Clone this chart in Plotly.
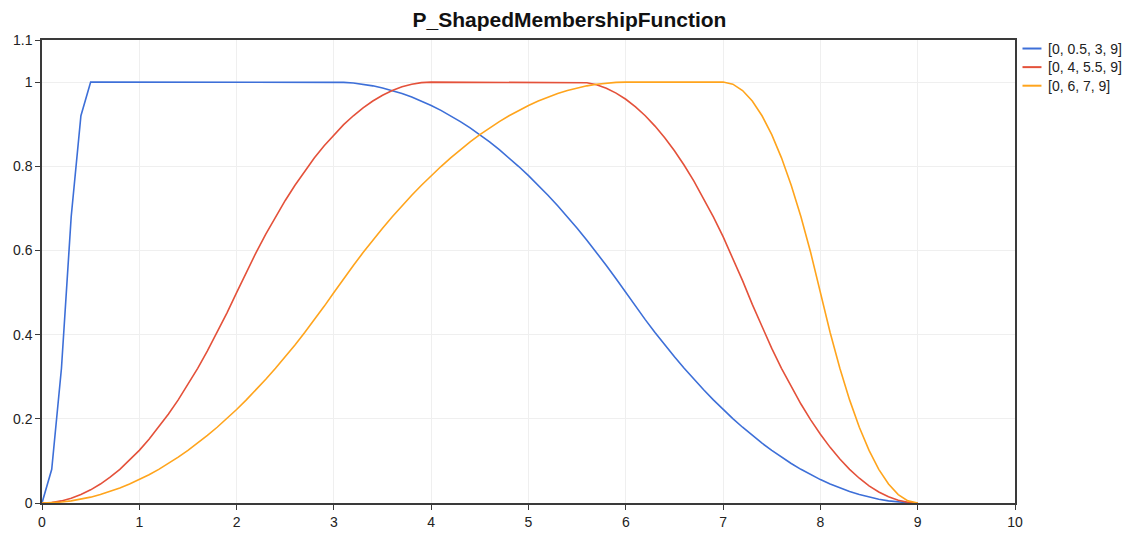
import plotly.graph_objects as go

# Sample grid (step 0.1 from 0 to 9)
x_vals = [round(i * 0.1, 1) for i in range(91)]

# Membership degree for parameters [0, 0.5, 3, 9]
mf_a = [
    0.0, 0.08, 0.32, 0.68, 0.92,
    1.0, 1.0, 1.0, 1.0, 1.0, 1.0, 1.0, 1.0, 1.0, 1.0, 1.0, 1.0, 1.0,
    1.0, 1.0, 1.0, 1.0, 1.0, 1.0, 1.0, 1.0, 1.0, 1.0, 1.0, 1.0, 1.0,
    0.9994, 0.9978, 0.995, 0.9911, 0.9861, 0.98, 0.9728, 0.9644, 0.955, 0.9444,
    0.9328, 0.92, 0.9061, 0.8911, 0.875, 0.8578, 0.8394, 0.82, 0.7994, 0.7778,
    0.755, 0.7311, 0.7061, 0.68, 0.6528, 0.6244, 0.595, 0.5644, 0.5328, 0.5,
    0.4672, 0.4356, 0.405, 0.3756, 0.3472, 0.32, 0.2939, 0.2689, 0.245, 0.2222,
    0.2006, 0.18, 0.1606, 0.1422, 0.125, 0.1089, 0.0939, 0.08, 0.0672, 0.0556,
    0.045, 0.0356, 0.0272, 0.02, 0.0139, 0.0089, 0.005, 0.0022, 0.0006, 0.0,
]

# Membership degree for parameters [0, 4, 5.5, 9]
mf_b = [
    0.0, 0.0013, 0.005, 0.0113, 0.02, 0.0313, 0.045, 0.0613, 0.08, 0.1013,
    0.125, 0.1513, 0.18, 0.2113, 0.245, 0.2813, 0.32, 0.3613, 0.405, 0.4513,
    0.5, 0.5488, 0.595, 0.6388, 0.68, 0.7188, 0.755, 0.7888, 0.82, 0.8488,
    0.875, 0.8988, 0.92, 0.9388, 0.955, 0.9688, 0.98, 0.9888, 0.995, 0.9988,
    1.0, 1.0, 1.0, 1.0, 1.0, 1.0, 1.0, 1.0, 1.0, 1.0, 1.0, 1.0, 1.0, 1.0, 1.0, 1.0,
    0.9984, 0.9935, 0.9853, 0.9739, 0.9592, 0.9412, 0.92, 0.8955, 0.8678,
    0.8367, 0.8024, 0.7649, 0.7241, 0.68, 0.6327, 0.582, 0.5282,
    0.4718, 0.418, 0.3673, 0.32, 0.2759, 0.2351, 0.1976, 0.1633, 0.1322,
    0.1045, 0.08, 0.0588, 0.0408, 0.0261, 0.0147, 0.0065, 0.0016, 0.0,
]

# Membership degree for parameters [0, 6, 7, 9]
mf_c = [
    0.0, 0.0006, 0.0022, 0.005, 0.0089, 0.0139, 0.02, 0.0272, 0.0356, 0.045,
    0.0556, 0.0672, 0.08, 0.0939, 0.1089, 0.125, 0.1422, 0.1606, 0.18, 0.2006,
    0.2222, 0.245, 0.2689, 0.2939, 0.32, 0.3472, 0.3756, 0.405, 0.4356, 0.4672,
    0.5, 0.5328, 0.5644, 0.595, 0.6244, 0.6528, 0.68, 0.7061, 0.7311, 0.755,
    0.7778, 0.7994, 0.82, 0.8394, 0.8578, 0.875, 0.8911, 0.9061, 0.92, 0.9328,
    0.9444, 0.955, 0.9644, 0.9728, 0.98, 0.9861, 0.9911, 0.995, 0.9978, 0.9994,
    1.0, 1.0, 1.0, 1.0, 1.0, 1.0, 1.0, 1.0, 1.0, 1.0, 1.0,
    0.995, 0.98, 0.955, 0.92, 0.875, 0.82, 0.755, 0.68, 0.595, 0.5,
    0.405, 0.32, 0.245, 0.18, 0.125, 0.08, 0.045, 0.02, 0.005, 0.0,
]

series_names = ["[0, 0.5, 3, 9]", "[0, 4, 5.5, 9]", "[0, 6, 7, 9]"]
series_values = [mf_a, mf_b, mf_c]
series_colors = ["#3d6fd8", "#e4513a", "#ffa41c"]

x_ticks = [0, 1, 2, 3, 4, 5, 6, 7, 8, 9, 10]
y_ticks = [0, 0.2, 0.4, 0.6, 0.8, 1, 1.1]
y_tick_text = ["0", "0.2", "0.4", "0.6", "0.8", "1", "1.1"]

FONT = "Liberation Sans, Arial, sans-serif"

fig = go.Figure()
for name, ys, col in zip(series_names, series_values, series_colors):
    fig.add_trace(go.Scatter(
        x=x_vals, y=ys, mode="lines", name=name,
        line=dict(color=col, width=1.6),
        showlegend=False,
    ))

# Compact legend to the right of the plot area
legend_rows = [0.9816, 0.9414, 0.9013]
for name, col, yy in zip(series_names, series_colors, legend_rows):
    fig.add_shape(type="line", xref="paper", yref="paper",
                  x0=1.0077, x1=1.0272, y0=yy, y1=yy,
                  line=dict(color=col, width=2))
    fig.add_annotation(xref="paper", yref="paper", x=1.0323, y=yy,
                       text=name, showarrow=False, xanchor="left",
                       yanchor="middle",
                       font=dict(family=FONT, size=14, color="#222222"))

axis_common = dict(
    showline=True, linecolor="#3a3a3a", linewidth=1.5, mirror=True,
    showgrid=True, gridcolor="#efefef", gridwidth=1,
    ticks="outside", ticklen=5, tickcolor="#3a3a3a", tickwidth=1,
    tickfont=dict(family=FONT, size=14, color="#222222"),
    zeroline=False,
)

fig.update_layout(
    width=1139, height=542,
    margin=dict(l=42, r=124, t=40, b=29),
    paper_bgcolor="white", plot_bgcolor="white",
    title=dict(text="<b>P_ShapedMembershipFunction</b>",
               x=0.5, xref="container", xanchor="center",
               y=0.963, yref="container", yanchor="middle",
               font=dict(family=FONT, size=21, color="#111111")),
    xaxis=dict(range=[0, 10], tickvals=x_ticks, **axis_common),
    yaxis=dict(range=[0, 1.1], tickvals=y_ticks, ticktext=y_tick_text,
               **axis_common),
)

fig.write_html("out.html")
